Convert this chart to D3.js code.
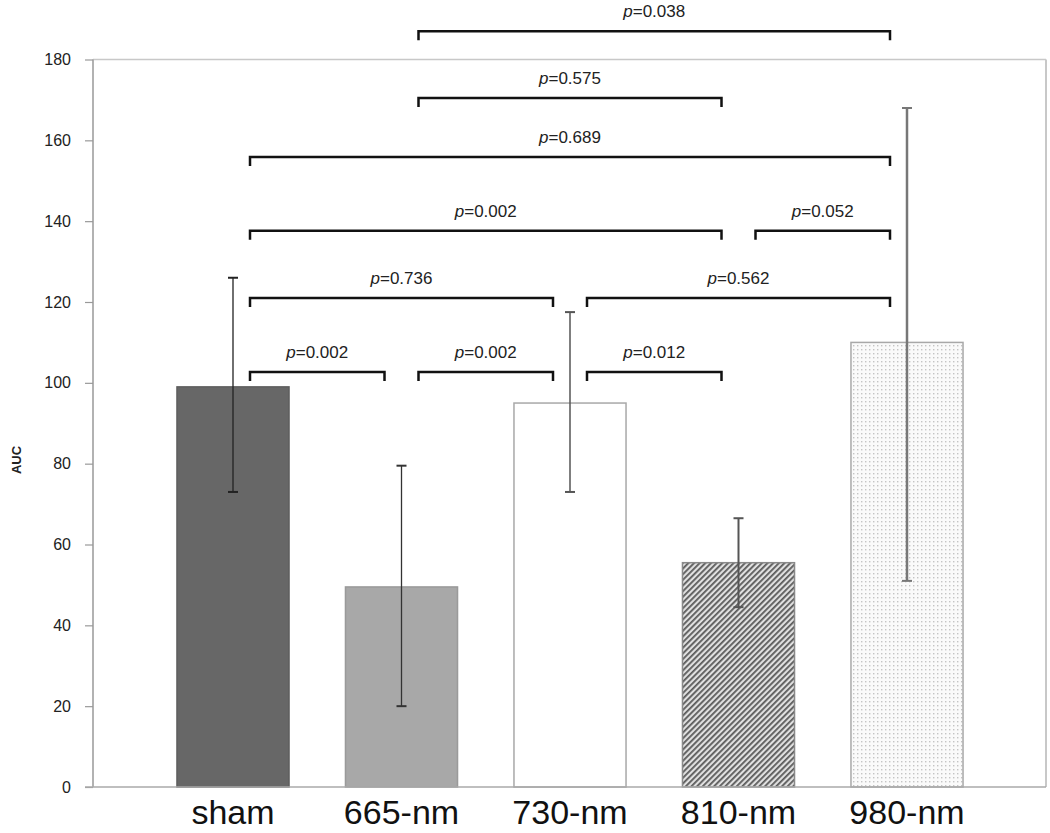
<!DOCTYPE html>
<html><head><meta charset="utf-8">
<script src="https://cdn.jsdelivr.net/npm/d3@7"></script>
<style>body{margin:0;background:#fff}svg{display:block}</style>
</head><body>
<script>
const categories = ["sham","665-nm","730-nm","810-nm","980-nm"];
const values = [99, 49.5, 95, 55.5, 110];
const errUp = [27, 30, 22.5, 11, 58];
const errDown = [26, 29.5, 22, 11, 59];
const yTicks = [0,20,40,60,80,100,120,140,160,180];
// brackets: [from index, to index, level (AUC units), label]
const bracketFrom = [0,1,2,0,2,0,3,0,1,1];
const bracketTo   = [1,2,3,2,4,3,4,4,3,4];
const bracketLevel= [102.7,102.7,102.7,121,121,137.6,137.6,155.9,170.5,187];
const bracketP    = ["0.002","0.002","0.012","0.736","0.562","0.002","0.052","0.689","0.575","0.038"];

(function(){
const W=1050,H=833;
const svg=d3.select("body").append("svg").attr("width",W).attr("height",H);
const defs=svg.append("defs");
const hatch=defs.append("pattern").attr("id","hatch").attr("patternUnits","userSpaceOnUse")
  .attr("width",4).attr("height",4).attr("patternTransform","rotate(45)");
hatch.append("rect").attr("width",4).attr("height",4).attr("fill","#e0e0e0");
hatch.append("rect").attr("width",1.8).attr("height",4).attr("fill","#5a5a5a");
const dots=defs.append("pattern").attr("id","dots").attr("patternUnits","userSpaceOnUse")
  .attr("width",4).attr("height",4);
dots.append("rect").attr("width",4).attr("height",4).attr("fill","#fafafa");
dots.append("rect").attr("x",1).attr("y",1).attr("width",1.4).attr("height",1.4).attr("fill","#c4c4c4");

const pLeft=93,pRight=1046,pTop=59.5,pBottom=787;
const y=d3.scaleLinear().domain([0,180]).range([pBottom,pTop]);
const x=d3.scaleBand().domain(categories).range([148.75,991.25]).paddingInner(0.335).paddingOuter(0.1675);

// frame
svg.append("line").attr("x1",pLeft).attr("x2",pRight).attr("y1",pTop).attr("y2",pTop).attr("stroke","#c8c8c8").attr("stroke-width",1.5);
svg.append("line").attr("x1",pRight).attr("x2",pRight).attr("y1",pTop).attr("y2",pBottom).attr("stroke","#c8c8c8").attr("stroke-width",2);

const yAxis=d3.axisLeft(y).tickValues(yTicks).tickSize(8).tickPadding(14);
const ga=svg.append("g").attr("transform",`translate(${pLeft},0)`).call(yAxis);
ga.select(".domain").attr("stroke","#999").attr("stroke-width",1.5).attr("d",`M0,${pTop}V${pBottom}`);
ga.selectAll(".tick line").attr("stroke","#999").attr("stroke-width",1.2);
ga.selectAll(".tick text").attr("font-family","Liberation Sans, Arial, sans-serif").attr("font-size",16).attr("fill","#222");

svg.append("text").attr("transform",`translate(21,460) rotate(-90)`).attr("text-anchor","middle")
  .attr("font-family","Liberation Sans, Arial, sans-serif").attr("font-weight","bold").attr("font-size",13).attr("fill","#222").text("AUC");

const fills=["#676767","#a8a8a8","#ffffff","url(#hatch)","url(#dots)"];
const strokes=["#5e5e5e","#9a9a9a","#a8a8a8","#8a8a8a","#a8a8a8"];
svg.selectAll("rect.bar").data(categories).join("rect").attr("class","bar")
  .attr("x",d=>x(d)).attr("width",x.bandwidth())
  .attr("y",(d,i)=>y(values[i])).attr("height",(d,i)=>pBottom-y(values[i]))
  .attr("fill",(d,i)=>fills[i]).attr("stroke",(d,i)=>strokes[i]).attr("stroke-width",1.5);

// bottom axis line
svg.append("line").attr("x1",pLeft-8).attr("x2",pRight).attr("y1",pBottom).attr("y2",pBottom).attr("stroke","#aaa").attr("stroke-width",1.5);

// category labels
svg.selectAll("text.cat").data(categories).join("text").attr("class","cat")
  .attr("x",d=>x(d)+x.bandwidth()/2).attr("y",824).attr("text-anchor","middle")
  .attr("font-family","Liberation Sans, Arial, sans-serif").attr("font-size",34).attr("fill","#111").text(d=>d);

// error bars
const ecol=["#222","#333","#555","#555","#777"];
const ewid=[1.3,1.3,1.5,2,2.5];
const eb=svg.selectAll("g.err").data(categories).join("g").attr("class","err");
eb.append("line").attr("x1",d=>x(d)+x.bandwidth()/2).attr("x2",d=>x(d)+x.bandwidth()/2)
  .attr("y1",(d,i)=>y(values[i]+errUp[i])).attr("y2",(d,i)=>y(values[i]-errDown[i]))
  .attr("stroke",(d,i)=>ecol[i]).attr("stroke-width",(d,i)=>ewid[i]);
[errUp.map((e,i)=>values[i]+e), errDown.map((e,i)=>values[i]-e)].forEach(arr=>{
  eb.append("line").attr("x1",d=>x(d)+x.bandwidth()/2-5).attr("x2",d=>x(d)+x.bandwidth()/2+5)
    .attr("y1",(d,i)=>y(arr[i])).attr("y2",(d,i)=>y(arr[i]))
    .attr("stroke",(d,i)=>ecol[i]).attr("stroke-width",2);
});

// brackets
const off=17, tick=9;
const cx=i=>x(categories[i])+x.bandwidth()/2;
bracketP.forEach((p,k)=>{
  const x1=cx(bracketFrom[k])+off, x2=cx(bracketTo[k])-off, yy=y(bracketLevel[k]);
  svg.append("path").attr("d",`M${x1},${yy+tick}V${yy}H${x2}V${yy+tick}`)
    .attr("fill","none").attr("stroke","#111").attr("stroke-width",2.5);
  const t=svg.append("text").attr("x",(x1+x2)/2).attr("y",yy-14).attr("text-anchor","middle")
    .attr("font-family","Liberation Sans, Arial, sans-serif").attr("font-size",17).attr("fill","#222");
  t.append("tspan").attr("font-style","italic").text("p");
  t.append("tspan").text("="+p);
});
})();
</script>
</body></html>
